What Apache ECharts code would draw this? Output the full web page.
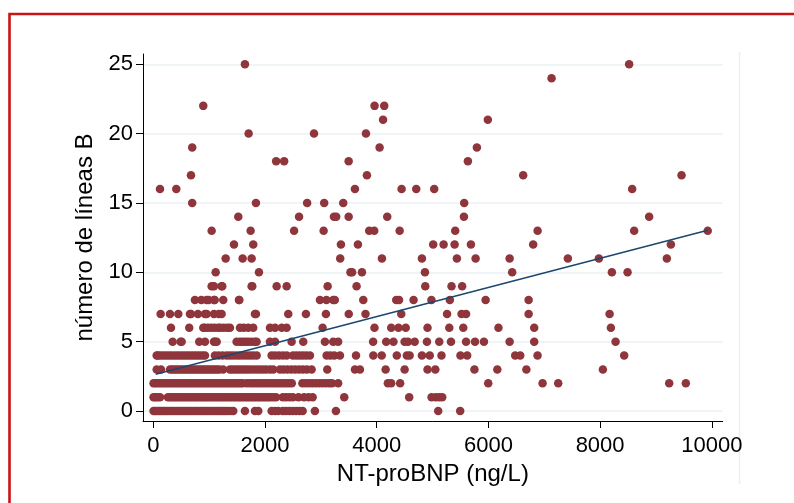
<!DOCTYPE html>
<html>
<head>
<meta charset="utf-8">
<script src="https://cdn.jsdelivr.net/npm/echarts@6/dist/echarts.min.js"></script>
<style>
html,body{margin:0;padding:0;background:#fff;}
#chart{width:794px;height:503px;}
</style>
</head>
<body>
<div id="chart"></div>
<script>
// número de líneas B levels and NT-proBNP values at each level
const bLevels = [0,1,2,3,4,5,6,7,8,9,10,11,12,13,14,15,16,17,18,19,20,21,22,24,25];
const ntLevel0 = [5,35,70,105,140,175,210,250,290,330,370,410,450,490,530,570,610,650,690,730,770,810,850,890,930,970,1010,1050,1090,1130,1170,1210,1250,1290,1330,1380,1432,1641,1820,1880,2119,2180,2238,2322,2380,2440,2500,2560,2620,2674,2894,3270,5101,5495];
const ntLevel1 = [5,40,80,120,263,300,340,380,420,460,500,540,580,620,660,700,740,780,820,860,900,940,980,1020,1060,1100,1140,1180,1220,1260,1300,1340,1380,1420,1460,1500,1540,1580,1620,1660,1700,1740,1780,1820,1860,1900,1940,1980,2020,2060,2100,2150,2196,2320,2380,2440,2500,2600,2700,2780,2853,3419,4582,4983,5060,5120,5173];
const ntLevel2 = [5,40,80,120,160,200,240,280,320,360,400,440,480,520,560,600,640,680,720,760,800,840,880,920,960,1000,1040,1080,1120,1160,1200,1240,1280,1320,1360,1400,1440,1480,1520,1560,1600,1670,1730,1780,1830,1880,1930,1980,2030,2080,2130,2180,2230,2280,2330,2380,2430,2480,2670,2730,2790,2850,2910,2970,3030,3090,3150,3200,3310,4200,4260,4420,5997,6970,7250,9237,9535];
const ntLevel3 = [61,138,299,340,380,420,460,500,540,580,620,660,700,740,780,820,860,900,940,980,1020,1060,1100,1140,1180,1250,1373,1420,1470,1520,1570,1620,1670,1720,1780,1840,1900,1960,2020,2090,2148,2268,2330,2400,2470,2540,2610,2680,2750,2835,3115,3611,3700,4160,4500,4910,5050,5750,6160,6680,8050];
const ntLevel4 = [61,84,130,180,230,280,330,380,430,480,530,580,630,680,730,780,830,880,925,1104,1170,1240,1313,1373,1430,1490,1550,1610,1670,1730,1790,1851,2119,2180,2250,2320,2388,2500,2560,2620,2680,2740,2805,3104,3170,3240,3342,3630,3940,4090,4360,4540,4590,4810,4950,5160,5500,5620,6480,6570,6880,8431];
const ntLevel5 = [347,490,508,823,925,1087,1104,1135,1492,1552,1600,1650,1700,1760,1820,1850,2089,2180,2477,2685,3073,3222,3310,3936,4170,4300,4500,4560,4680,4900,5120,5330,5600,5760,5920,6380,6820,8277];
const ntLevel6 = [317,644,895,925,980,1040,1100,1163,1200,1260,1325,1373,1552,1620,1700,1790,2089,2180,2300,2388,3032,3960,4260,4390,4520,4910,5300,5550,6180,6820,8193];
const ntLevel7 = [132,299,448,657,675,800,925,955,1087,1176,1224,1820,1838,2417,2733,3091,3500,3800,4440,5260,5520,5600,6720,8170];
const ntLevel8 = [746,860,955,990,1087,1100,1253,1534,1540,2984,3100,3222,3250,3760,4350,4400,4660,4980,5310,5950,6720];
const ntLevel9 = [1045,1087,1224,1235,1761,1772,2209,2388,3122,3640,4870,5340,5530];
const ntLevel10 = [1117,1892,3530,3560,3736,4864,6426,8211,8492];
const ntLevel11 = [1296,1600,1761,3347,4094,4810,5436,5771,6380,7423,7978,9195];
const ntLevel12 = [1445,1790,3360,3664,5012,5198,5395,5687,6802,9267];
const ntLevel13 = [1045,1743,2521,3050,3866,3956,4411,5406,6881,8610,9927];
const ntLevel14 = [1522,2610,3235,3275,3498,4189,5562,8878];
const ntLevel15 = [697,1838,2755,3060,3401,5567];
const ntLevel16 = [120,412,3611,4446,4708,5030,8574];
const ntLevel17 = [675,3825,6623,9458];
const ntLevel18 = [2200,2343,3498,5633];
const ntLevel19 = [697,4052,5794];
const ntLevel20 = [1707,2878,3808];
const ntLevel21 = [4114,5990];
const ntLevel22 = [895,3962,4135];
const ntLevel24 = [7131];
const ntLevel25 = [1641,8520];
const ntByLevel = [ntLevel0,ntLevel1,ntLevel2,ntLevel3,ntLevel4,ntLevel5,ntLevel6,ntLevel7,ntLevel8,ntLevel9,ntLevel10,ntLevel11,ntLevel12,ntLevel13,ntLevel14,ntLevel15,ntLevel16,ntLevel17,ntLevel18,ntLevel19,ntLevel20,ntLevel21,ntLevel22,ntLevel24,ntLevel25];

// fitted line
const fitX = [43, 9927];
const fitY = [2.65, 13.03];

const xTicks = [0, 2000, 4000, 6000, 8000, 10000];
const yTicks = [0, 5, 10, 15, 20, 25];
const xTitle = 'NT-proBNP (ng/L)';
const yTitle = 'número de líneas B';

const scatterData = [];
bLevels.forEach((b, i) => ntByLevel[i].forEach(x => scatterData.push([x, b])));
const fitData = fitX.map((x, i) => [x, fitY[i]]);

const FONT = "'Liberation Sans', Arial, Helvetica, sans-serif";
const chart = echarts.init(document.getElementById('chart'), null, {renderer: 'canvas'});
chart.setOption({
  backgroundColor: '#ffffff',
  animation: false,
  grid: {left: 143, right: 71.3, top: 54, bottom: 82, containLabel: false},
  xAxis: {
    type: 'value', min: -184, max: 10195,
    name: xTitle, nameLocation: 'middle', nameGap: 32,
    nameTextStyle: {fontFamily: FONT, fontSize: 24, color: '#000'},
    axisLine: {show: true, onZero: false, lineStyle: {color: '#000', width: 1}},
    axisTick: {show: true, length: 7, customValues: xTicks, lineStyle: {color: '#000', width: 1}},
    axisLabel: {customValues: xTicks, formatter: v => String(v), fontFamily: FONT, fontSize: 22, color: '#000', margin: 14},
    splitLine: {show: false}
  },
  yAxis: {
    type: 'value', min: -0.72, max: 25.74,
    name: yTitle, nameLocation: 'middle', nameGap: 37, nameRotate: 90,
    nameTextStyle: {fontFamily: FONT, fontSize: 24, color: '#000'},
    axisLine: {show: true, onZero: false, lineStyle: {color: '#000', width: 1}},
    axisTick: {show: true, length: 7, customValues: yTicks, lineStyle: {color: '#000', width: 1}},
    axisLabel: {customValues: yTicks, formatter: v => String(v), fontFamily: FONT, fontSize: 22, color: '#000', margin: 10},
    splitLine: {show: true, lineStyle: {color: '#eaf1f3', width: 1.5}}
  },
  graphic: [
    {type: 'rect', shape: {x: 9.5, y: 14, width: 900, height: 600}, style: {fill: 'none', stroke: '#c81414', lineWidth: 2.6}, silent: true},
    {type: 'line', shape: {x1: 739.5, y1: 52, x2: 739.5, y2: 484}, style: {stroke: '#e9f0f3', lineWidth: 1.5}, silent: true}
  ],
  series: [
    {type: 'scatter', data: scatterData, symbol: 'circle', symbolSize: 8.5,
     itemStyle: {color: '#8f353c', opacity: 1}, z: 2},
    {type: 'line', data: fitData, symbol: 'none', z: 3,
     lineStyle: {color: '#1a476f', width: 1.5}}
  ]
});
</script>
</body>
</html>
